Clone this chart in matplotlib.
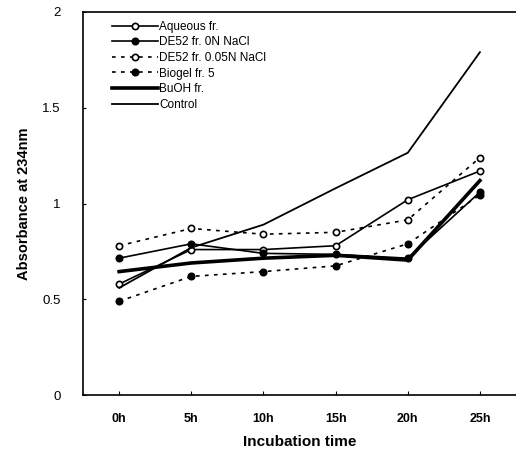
import matplotlib.pyplot as plt

plt.rcParams["font.family"] = ["Liberation Sans", "DejaVu Sans"]

times = ["0h", "5h", "10h", "15h", "20h", "25h"]
aqueous = [0.58, 0.76, 0.76, 0.78, 1.02, 1.17]
de52_0n = [0.715, 0.79, 0.74, 0.735, 0.715, 1.06]
de52_005n = [0.78, 0.87, 0.84, 0.85, 0.915, 1.24]
biogel = [0.49, 0.62, 0.645, 0.675, 0.79, 1.045]
buoh = [0.645, 0.69, 0.715, 0.73, 0.705, 1.12]
control = [0.56, 0.77, 0.89, 1.08, 1.265, 1.79]

dots = (0, (2.2, 3.2))
x = range(len(times))

fig = plt.figure(figsize=(5.16, 4.59), dpi=100)
ax = fig.add_axes([0.161, 0.139, 0.839, 0.835])

ax.plot(x, aqueous, color="black", lw=1.2, marker="o", ms=4.5, mfc="white", mew=1.2, label="Aqueous fr.")
ax.plot(x, de52_0n, color="black", lw=1.2, marker="o", ms=4.8, label="DE52 fr. 0N NaCl")
ax.plot(x, de52_005n, color="black", lw=1.2, ls=dots, marker="o", ms=4.5, mfc="white", mew=1.2, label="DE52 fr. 0.05N NaCl")
ax.plot(x, biogel, color="black", lw=1.2, ls=dots, marker="o", ms=4.8, label="Biogel fr. 5")
ax.plot(x, buoh, color="black", lw=2.6, label="BuOH fr.")
ax.plot(x, control, color="black", lw=1.3, label="Control")

ax.set_xlim(-0.5, 5.5)
ax.set_ylim(0, 2)
ax.set_xticks(list(x))
ax.set_xticklabels(times, fontweight="bold", fontsize=9)
ax.set_yticks([0, 0.5, 1, 1.5, 2])
ax.set_yticklabels(["0", "0.5", "1", "1.5", "2"], fontsize=9.5)
ax.tick_params(axis="x", direction="in", length=3, pad=13)
ax.tick_params(axis="y", direction="in", length=2, pad=16)
ax.spines["right"].set_visible(False)
for s in ["left", "bottom", "top"]:
    ax.spines[s].set_linewidth(1.2)

ax.set_xlabel("Incubation time", fontweight="bold", fontsize=11, labelpad=7)
ax.set_ylabel("Absorbance at 234nm", fontweight="bold", fontsize=10.5, labelpad=8)

leg = ax.legend(loc="upper left", bbox_to_anchor=(0.05, 0.995), frameon=False, fontsize=8.5,
                handlelength=3.9, handletextpad=0.1, labelspacing=0.3, borderaxespad=0.2)

fig.savefig("out.png", dpi=100)
